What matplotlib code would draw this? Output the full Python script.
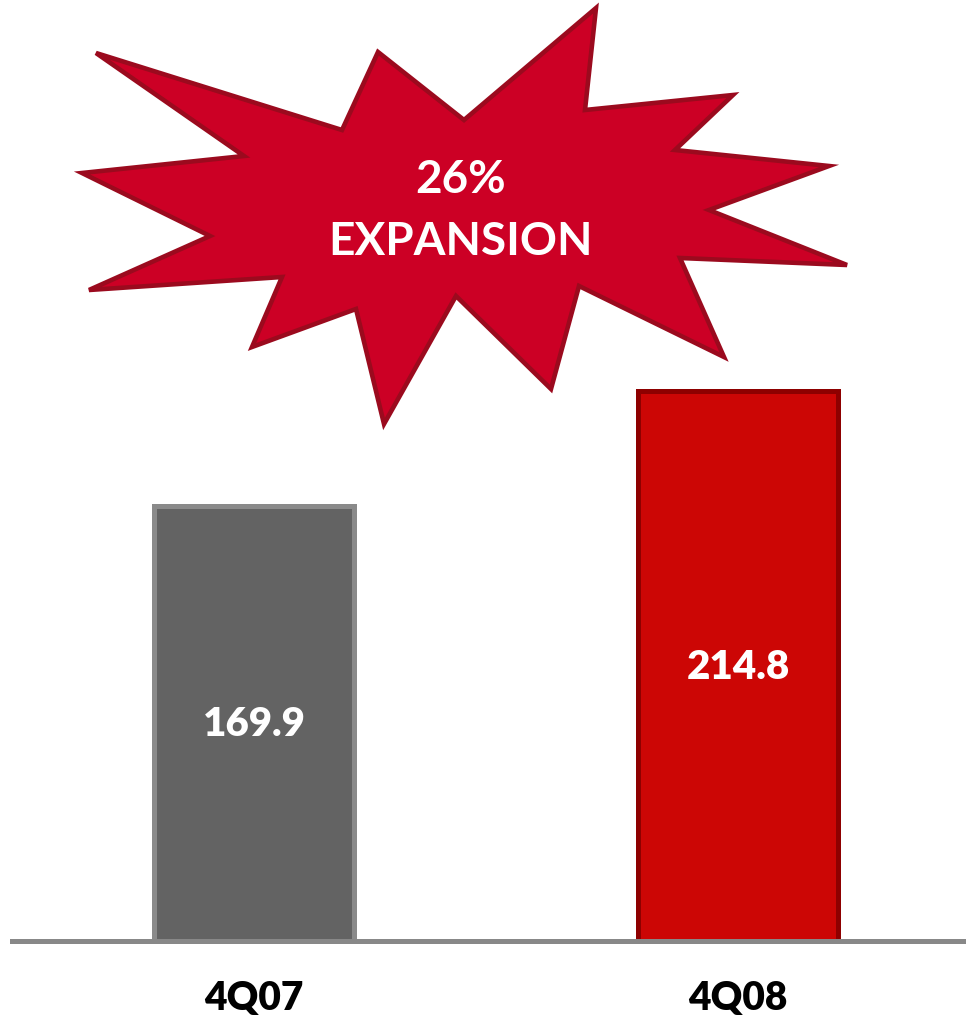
import matplotlib.pyplot as plt
from matplotlib.patches import Polygon

# quarterly values
quarters = ['4Q07', '4Q08']
values = [169.9, 214.8]
face_colors = ['#636363', '#CC0605']
edge_colors = ['#8A8A8A', '#8E0000']
burst_text = '26%\nEXPANSION'

# outline of the starburst callout (pixel space, y downwards)
burst_x = [96, 342, 378, 464, 596, 585, 733, 675, 829, 709, 847, 680,
           724, 579, 551, 456, 384, 356, 252, 282, 89, 210, 82, 244]
burst_y = [54, 131, 53, 121, 9, 111, 96, 151, 167, 211, 266, 259,
           358, 287, 390, 297, 425, 310, 348, 278, 291, 237, 174, 157]

W, H = 966, 1020
plt.rcParams['font.family'] = ['Lato', 'DejaVu Sans']

fig = plt.figure(figsize=(W / 100, H / 100), dpi=100)
ax = fig.add_axes([12 / W, (H - 942) / H, 1 - 12 / W, 942 / H])

xs = range(len(values))
ax.bar(xs, values, width=0.413, color=face_colors, edgecolor=edge_colors,
       linewidth=3.6, zorder=2)
for x, v in zip(xs, values):
    ax.text(x, v / 2, f'{v:.1f}', ha='center', va='center', color='white',
            fontsize=29, fontweight='heavy', zorder=3)
    ax.text(x, -22, quarters[x], ha='center', va='center', color='black',
            fontsize=28, fontweight='heavy', clip_on=False)

ax.axhline(0, color='#888888', linewidth=3.6, zorder=4, clip_on=False)
ax.set_xlim(-0.5, 1.471)
ax.set_ylim(0, 368)
ax.axis('off')

# starburst overlay in pixel coordinates
ov = fig.add_axes([0, 0, 1, 1])
ov.set_xlim(0, W)
ov.set_ylim(H, 0)
ov.axis('off')
ov.add_patch(Polygon(list(zip(burst_x, burst_y)), closed=True,
                     facecolor='#CC0025', edgecolor='#9B0A1E', linewidth=3.3,
                     joinstyle='miter'))
ov.text(461, 211, burst_text, ha='center', va='center', color='white',
        fontsize=33, fontweight='bold', linespacing=1.6)

fig.savefig('out.png', dpi=100)
